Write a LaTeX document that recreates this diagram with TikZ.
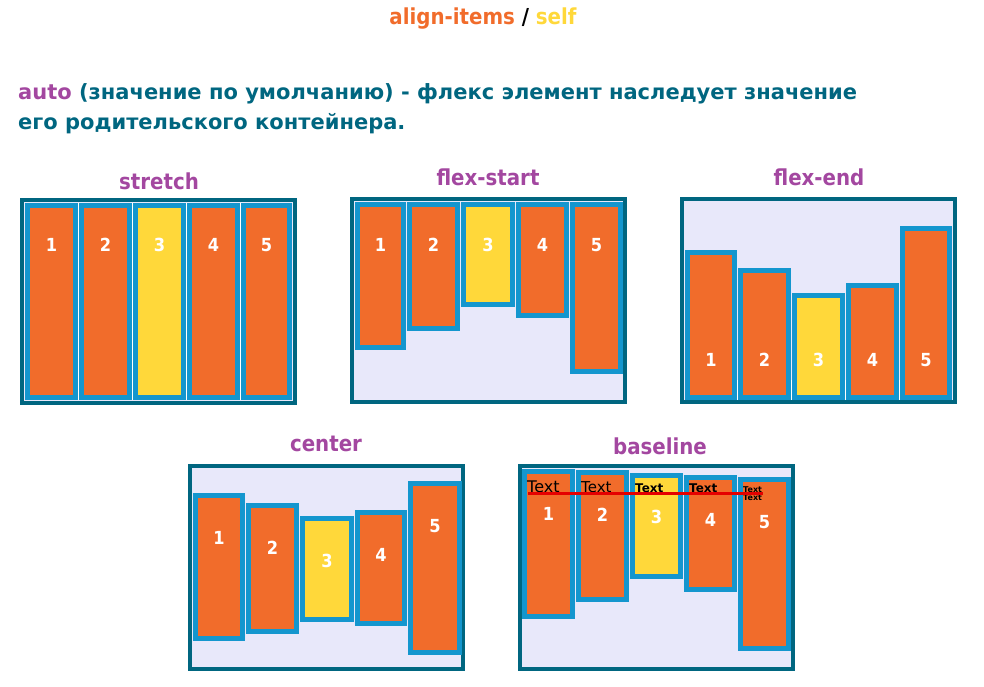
\documentclass[tikz,border=0pt]{standalone}
\usepackage{fontspec}
\setmainfont{DejaVu Sans}
\newfontfamily\cond{DejaVu Sans Condensed}
\definecolor{dk}{RGB}{0,102,128}
\definecolor{bl}{RGB}{20,150,206}
\definecolor{og}{RGB}{241,108,43}
\definecolor{yl}{RGB}{255,216,58}
\definecolor{lv}{RGB}{232,232,250}
\definecolor{pu}{RGB}{163,71,160}
\tikzset{
 panel/.style={draw=dk,line width=4pt,fill=lv},
 head/.style={text=pu,font=\cond\bfseries\fontsize{22}{24}\selectfont,inner sep=0},
 num/.style={text=white,font=\cond\bfseries\fontsize{18}{20}\selectfont,inner sep=0},
 smalltxt/.style={text=black,inner sep=0,anchor=base west},
}
% name, x1,y1,x2,y2, color, numy
\newcommand\itm[7]{%
 \fill[bl] (#2,#3) rectangle (#4,#5);
 \fill[#6] (#2+5,#3+5) rectangle (#4-5,#5-5);
 \node[num] (#1) at ({(#2+#4)/2},#7) {\csname num#1\endcsname};
}
\begin{document}
\begin{tikzpicture}[x=1pt,y=-1pt]
\useasboundingbox (0,0) rectangle (984,686);
\node[font=\cond\bfseries\fontsize{22}{24}\selectfont,inner sep=0] (title) at (483,19) {\textcolor{og}{align-items} / \textcolor{yl}{self}};
\node[anchor=base west,inner sep=0,font=\bfseries\fontsize{21}{24}\selectfont,text=dk] (l1) at (18,99) {\textcolor{pu}{auto} (значение по умолчанию) - флекс элемент наследует значение};
\node[anchor=base west,inner sep=0,font=\bfseries\fontsize{21}{24}\selectfont,text=dk] (l2) at (18,129) {его родительского контейнера.};
% stretch
\node[head] (h1) at (159,181) {stretch};
\filldraw[panel] (22,200) rectangle (295,403);
\foreach \a/\b/\c/\n in {25/78/og/1,79/132/og/2,133/186/yl/3,187/240/og/4,241/292/og/5}{
 \fill[bl] (\a,203) rectangle (\b,400);
 \fill[\c] (\a+5,208) rectangle (\b-5,395);
 \node[num] (s\n) at ({(\a+\b)/2},245) {\n};
}
\foreach \x in {78.5,132.5,186.5,240.5} \draw[white,line width=0.8pt] (\x,203) -- (\x,400);
% flex-start
\node[head] (h2) at (488,177) {flex-start};
\filldraw[panel] (352,199) rectangle (625,402);
\foreach \a/\b/\y/\c/\n in {355/406/350/og/1,407/460/331/og/2,461/515/307/yl/3,516/569/318/og/4,570/623/374/og/5}{
 \fill[bl] (\a,202) rectangle (\b,\y);
 \fill[\c] (\a+5,207) rectangle (\b-5,\y-5);
 \node[num] (fs\n) at ({(\a+\b)/2},245) {\n};
}
% flex-end
\node[head] (h3) at (819,177) {flex-end};
\filldraw[panel] (682,199) rectangle (955,402);
\foreach \a/\b/\y/\c/\n in {685/737/250/og/1,738/791/268/og/2,792/845/293/yl/3,846/899/283/og/4,900/952/226/og/5}{
 \fill[bl] (\a,\y) rectangle (\b,400);
 \fill[\c] (\a+5,\y+5) rectangle (\b-5,395);
 \node[num] (fe\n) at ({(\a+\b)/2},360) {\n};
}
\foreach \x in {737.5,791.5,845.5,899.5} \draw[white,line width=0.8pt] (\x,380) -- (\x,400);
% center
\node[head] (h4) at (326,444) {center};
\filldraw[panel] (190,466) rectangle (463,669);
\foreach \a/\b/\y/\z/\c/\n in {193/245/493/641/og/1,246/299/503/634/og/2,300/354/516/622/yl/3,355/407/510/626/og/4,408/462/481/655/og/5}{
 \fill[bl] (\a,\y) rectangle (\b,\z);
 \fill[\c] (\a+5,\y+5) rectangle (\b-5,\z-5);
 \node[num] (c\n) at ({(\a+\b)/2},\y+45) {\n};
}
% baseline
\node[head] (h5) at (660,446) {baseline};
\filldraw[panel] (520,466) rectangle (793,669);
\foreach \a/\b/\y/\z/\c/\n/\ny in {522/575/469/619/og/1/514,576/629/470/602/og/2/515,630/683/473/579/yl/3/517,684/737/475/592/og/4/520,738/791/477/651/og/5/522}{
 \fill[bl] (\a,\y) rectangle (\b,\z);
 \fill[\c] (\a+5,\y+5) rectangle (\b-5,\z-5);
 \node[num] (b\n) at ({(\a+\b)/2},\ny) {\n};
}
\node[smalltxt,font=\fontsize{16}{16}\selectfont] (t1) at (527,492) {Text};
\node[smalltxt,font=\fontsize{15}{16}\selectfont] (t2) at (581,492) {Text};
\node[smalltxt,font=\bfseries\fontsize{12}{12}\selectfont] (t3) at (635,492) {Text};
\node[smalltxt,font=\bfseries\fontsize{12}{12}\selectfont] (t4) at (689,492) {Text};
\node[smalltxt,font=\bfseries\fontsize{8}{8}\selectfont] (t5) at (743,492) {Text};
\node[smalltxt,font=\bfseries\fontsize{8}{8}\selectfont] (t6) at (743,500) {Text};
\draw[red!90!black,line width=3pt] (528,493) -- (763,493);
\end{tikzpicture}
\end{document}
